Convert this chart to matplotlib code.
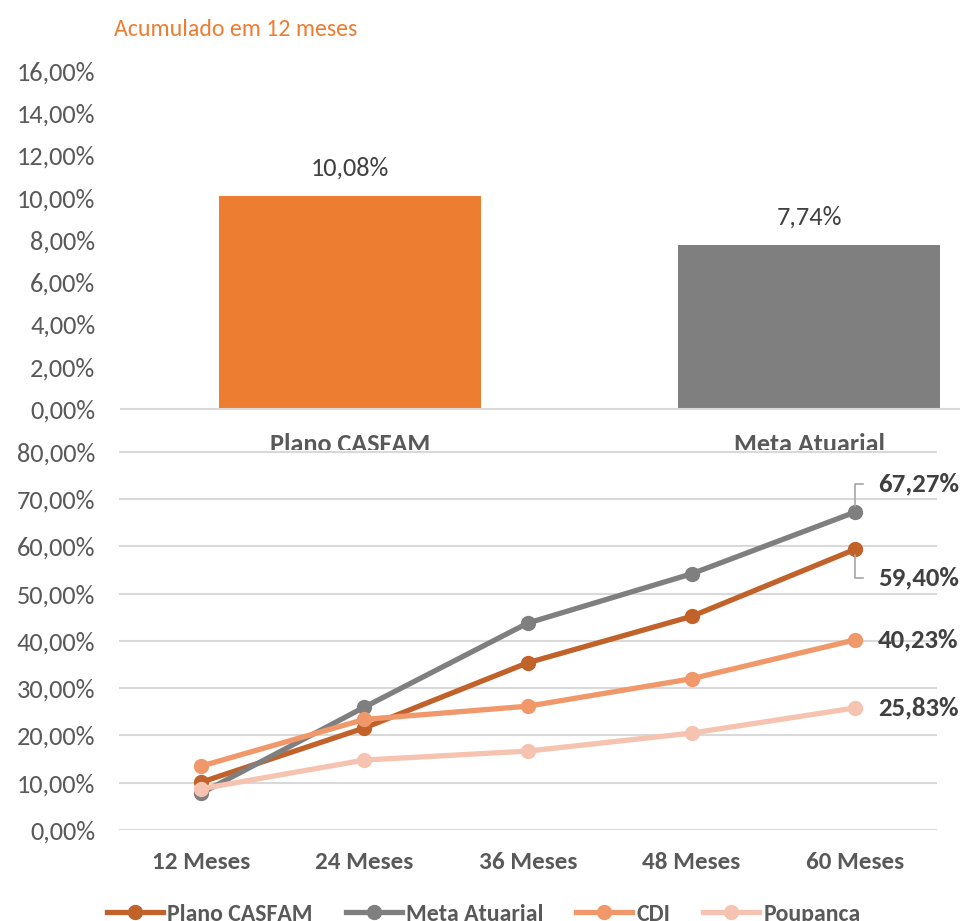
import matplotlib
matplotlib.use("Agg")
import matplotlib.pyplot as plt
from matplotlib.lines import Line2D
from matplotlib.transforms import offset_copy

plt.rcParams['font.family'] = ['Carlito', 'DejaVu Sans']

# ---- data ----
bar_categories = ["Plano CASFAM", "Meta Atuarial"]
bar_values = [10.08, 7.74]
bar_labels = ["10,08%", "7,74%"]
bar_ticks = [0, 2, 4, 6, 8, 10, 12, 14, 16]

periods = ["12 Meses", "24 Meses", "36 Meses", "48 Meses", "60 Meses"]
plano_casfam = [10.08, 21.6, 35.4, 45.2, 59.40]
meta_atuarial = [7.74, 26.0, 43.8, 54.2, 67.27]
cdi = [13.5, 23.4, 26.2, 32.0, 40.23]
poupanca = [8.7, 14.8, 16.7, 20.5, 25.83]
line_ticks = [0, 10, 20, 30, 40, 50, 60, 70, 80]
end_labels = ["59,40%", "67,27%", "40,23%", "25,83%"]

W, H = 960, 921
fig = plt.figure(figsize=(W / 100, H / 100), dpi=100)

TXT = "#595959"
DARK = "#404040"
GRID = "#D9D9D9"
FS = 19

def fmt(v):
    return f"{v:.2f}".replace(".", ",") + "%"

# ---- top bar chart ----
axt = fig.add_axes([120.5 / W, (H - 409) / H, 918 / W, 338 / H])
axt.bar(range(len(bar_values)), bar_values, width=0.57,
        color=["#ED7D31", "#7F7F7F"], zorder=2)
axt.set_xlim(-0.5, 1.5)
axt.set_ylim(0, 16)
axt.set_yticks(bar_ticks)
axt.set_yticklabels([fmt(v) for v in bar_ticks], fontsize=FS, color=TXT)
axt.set_xticks([])
axt.tick_params(axis='y', length=0, pad=18)
for s in ["top", "right", "left"]:
    axt.spines[s].set_visible(False)
axt.spines["bottom"].set_color(GRID)
axt.spines["bottom"].set_linewidth(1.5)
cat_tr = offset_copy(axt.get_xaxis_transform(), fig=fig, x=0, y=-43, units='dots')
for i, c in enumerate(bar_categories):
    axt.text(i, 0, c, transform=cat_tr, ha="center", va="baseline",
             fontsize=18.9, fontweight="bold", color=TXT, clip_on=False)
for i, (v, lab) in enumerate(zip(bar_values, bar_labels)):
    axt.annotate(lab, (i, v), xytext=(0, 12), textcoords="offset points",
                 ha="center", va="bottom", fontsize=FS, color=DARK)
fig.text(114 / W, 1 - 29 / H, "Acumulado em 12 meses", color="#ED7D31",
         fontsize=17.2, ha="left", va="center")

# white cover (chart area of bottom chart)
fig.patches.append(plt.Rectangle((0, 0), 1, (H - 450) / H, transform=fig.transFigure,
                                 facecolor="white", edgecolor="none", zorder=5))

# ---- bottom line chart ----
axb = fig.add_axes([119 / W, (H - 830) / H, 818 / W, 380 / H], zorder=6)
axb.patch.set_alpha(0)
x = list(range(len(periods)))
series = [
    ("Plano CASFAM", plano_casfam, "#C0622A"),
    ("Meta Atuarial", meta_atuarial, "#7F7F7F"),
    ("CDI", cdi, "#F0986A"),
    ("Poupanca", poupanca, "#F5C3AF"),
]
for name, vals, col in series:
    axb.plot(x, vals, color=col, lw=3.8, marker="o", ms=10, label=name,
             solid_capstyle="round", zorder=3)
axb.set_xlim(-0.5, 4.5)
axb.set_ylim(0, 80.4)
axb.set_yticks(line_ticks)
axb.set_yticklabels([fmt(v) for v in line_ticks], fontsize=FS, color=TXT)
axb.set_xticks(x)
axb.set_xticklabels(periods, fontsize=18, color=TXT, fontweight='bold')
axb.tick_params(axis='x', length=0, pad=16)
axb.tick_params(axis='y', length=0, pad=17)
axb.grid(axis='y', color=GRID, lw=1.5, zorder=0)
for s in axb.spines.values():
    s.set_visible(False)

# end labels
lx = 4
ELS = 19.4
for lab, vals, dy in [(end_labels[1], meta_atuarial, 28), (end_labels[0], plano_casfam, -29),
                      (end_labels[2], cdi, 0), (end_labels[3], poupanca, 0)]:
    axb.annotate(lab, (lx, vals[-1]), xytext=(23, dy), textcoords="offset pixels",
                 ha="left", va="center", fontsize=ELS, fontweight="bold", color=DARK)

# leader lines
inv = fig.transFigure.inverted()
for vals, dy in [(meta_atuarial, 28), (plano_casfam, -29)]:
    px, py = axb.transData.transform((lx, vals[-1]))
    pts = [(px, py + (6 if dy > 0 else -6)), (px, py + dy), (px + 8, py + dy)]
    xs, ys = zip(*[inv.transform(p) for p in pts])
    fig.add_artist(Line2D(xs, ys, color="#A6A6A6", lw=1.2, transform=fig.transFigure, zorder=7))

handles = [Line2D([0], [0], color=c, lw=3.8, marker="o", ms=10) for _, _, c in series]
fig.legend(handles, [s[0] for s in series], loc="center", ncol=4,
           bbox_to_anchor=(484 / W, (H - 914) / H), frameon=False,
           labelcolor=TXT, prop={'weight': 'bold', 'size': 17.1},
           handlelength=2.36, handletextpad=0.17, columnspacing=1.39,
           borderpad=0, borderaxespad=0)

fig.savefig("out.png", dpi=100)
